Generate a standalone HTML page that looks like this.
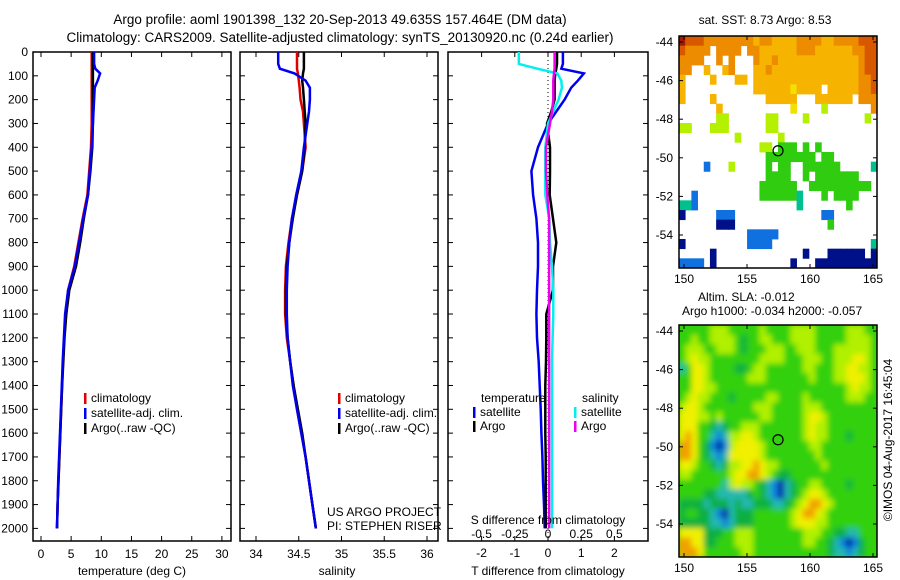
<!DOCTYPE html>
<html><head><meta charset="utf-8"><style>
body{margin:0;background:#fff;}
svg{display:block;font-family:"Liberation Sans",sans-serif;}
text{fill:#000;}
</style></head><body>
<svg id="fig" width="900" height="580" viewBox="0 0 900 580" xmlns="http://www.w3.org/2000/svg">
<g font-size="13.5">
<text x="340" y="24" text-anchor="middle">Argo profile: aoml 1901398_132 20-Sep-2013 49.635S 157.464E (DM data)</text>
<text x="340" y="42" text-anchor="middle">Climatology: CARS2009. Satellite-adjusted climatology: synTS_20130920.nc (0.24d earlier)</text>
</g>
<g id="p1"></g>
<g id="p2"></g>
<g id="p3"></g>
<g id="m1"></g>
<g id="m2"></g>
<defs><filter id="blur" x="0" y="0" width="1" height="1"><feGaussianBlur stdDeviation="3"/></filter>
<clipPath id="c2"><rect x="679" y="325" width="198" height="232"/></clipPath></defs>
</svg>
<script>
// ---- data ----
const depths=[0,50,70,90,120,150,200,250,300,400,500,600,700,800,900,1000,1100,1200,1300,1400,1500,1600,1700,1800,1900,2000];
const tempClim=[8.4,8.4,8.4,8.4,8.4,8.4,8.4,8.4,8.4,8.3,8.0,7.7,6.9,6.2,5.5,4.5,4.1,3.85,3.65,3.5,3.35,3.2,3.05,2.9,2.75,2.65];
const tempSat=[8.8,8.8,9.0,9.8,9.4,8.9,8.8,8.7,8.6,8.4,8.1,7.8,7.0,6.3,5.6,4.5,4.0,3.8,3.6,3.45,3.3,3.15,3.0,2.85,2.75,2.65];
const tempArgo=[8.6,8.6,8.6,8.6,8.6,8.6,8.6,8.6,8.6,8.5,8.2,7.8,7.1,6.5,5.8,4.7,4.2,3.9,3.7,3.5,3.35,3.2,3.05,2.9,2.75,2.65];
const salClim=[34.48,34.48,34.48,34.49,34.50,34.51,34.52,34.55,34.56,34.58,34.54,34.48,34.42,34.38,34.35,34.34,34.34,34.36,34.40,34.44,34.48,34.53,34.58,34.62,34.66,34.70];
const salSat=[34.26,34.26,34.28,34.45,34.58,34.63,34.63,34.62,34.60,34.56,34.53,34.47,34.42,34.39,34.37,34.36,34.36,34.37,34.40,34.43,34.48,34.53,34.58,34.62,34.66,34.70];
const salArgo=[34.56,34.56,34.56,34.55,34.54,34.55,34.56,34.57,34.58,34.57,34.54,34.48,34.43,34.39,34.36,34.35,34.35,34.37,34.40,34.44,34.49,34.54,34.58,34.62,34.66,34.70];
const dTSat=[0.45,0.45,0.4,1.08,0.9,0.7,0.5,0.25,0.0,-0.3,-0.5,-0.45,-0.35,-0.3,-0.3,-0.33,-0.35,-0.33,-0.28,-0.25,-0.22,-0.2,-0.17,-0.15,-0.12,-0.1];
const dTArgo=[0.27,0.27,0.25,0.22,0.2,0.2,0.2,0.1,-0.03,0.06,0.06,0.05,0.15,0.25,0.15,0.15,-0.05,-0.05,-0.06,-0.08,-0.08,-0.08,-0.07,-0.07,-0.07,-0.07];
const dSSat=[-0.22,-0.22,-0.08,0.07,0.1,0.105,0.08,0.04,0.0,-0.02,-0.02,-0.02,0.01,0.015,0.03,0.04,0.04,0.035,0.03,0.03,0.03,0.03,0.03,0.03,0.03,0.03];
const dSArgo=[0.05,0.05,0.05,0.045,0.04,0.04,0.04,0.03,0.015,-0.015,-0.015,-0.005,0.008,0.008,0.008,0.008,0.008,0.008,0.008,0.008,0.008,0.008,0.008,0.008,0.008,0.008];
const depthTicks=[0,100,200,300,400,500,600,700,800,900,1000,1100,1200,1300,1400,1500,1600,1700,1800,1900,2000];
const tempTicks=[0,5,10,15,20,25,30];
const salTicks=[34,34.5,35,35.5,36];
const dTTicks=[-2,-1,0,1,2];
const dSTicks=[-0.5,-0.25,0,0.25,0.5];
const dSLabels=["-0.5","-0.25","0","0.25","0.5"];
const lonTicks=[150,155,160,165];
const latTicks=[-44,-46,-48,-50,-52,-54];
const argoLon=157.464, argoLat=-49.635;
const sstGrid=[
"98887777777767766667777667777888",
"87777.7777.776666667776666667788",
"7777..7.7...76676666666666666788",
"77..6..67...66766666666666666788",
"6....6...66.66666666666666666778",
"6...........66666656666.66666778",
"6....6........66666...666666.777",
"......6...........5....4.......7",
"......44......44....4.........4.",
"44...444......44................",
".........4......4...............",
".............44.333.3.3.........",
"..............33333333.33.......",
"....1...4.....3.33..333333.....2",
"..............3333..3.3333333...",
".............333333..3333333333.",
"..1..........3333332...3.3333...",
"221................2.......3....",
"0.....111..............11.......",
"......000...............3.......",
"...........11111................",
"0..........1111................2",
".....0..............0...000000.0",
"1111.0............0...0000000000"];
const slaGrid=[
"44444555444445444455554444455544","44544555543445544455554444455554",
"45554455543444555445554445555554","45655444444445555444555445556654",
"24665444433455444444554445566554","44665444444555444444454445566654",
"44665544444444444444444444456554","45655444344444554444544444455544",
"56654444444455544444555444444444","66655454444445544444566544444444",
"66644323445554444444565544444444","67644212556654444444565544434444",
"77643101566665444444455444444444","77643212666665444444445444444444",
"66544323556676554444444544444444","55444444566776543344444444444444",
"44444442565543210234455444434444","44443322222343210234566544444444",
"33332333232233322345677654444444","34433210233344444456776544444444",
"33333221233344444456665544444444","66663334455544444444555443322444",
"77663344455544444444554432101344","77764444445544444444444432212344"];
const sstColors={"9":"#a81800","8":"#d85800","7":"#ee8c00","6":"#f6b400","5":"#f2e000","4":"#b4f000","3":"#30cc10","2":"#00c090","1":"#1070e0","0":"#001088"};
const slaColors={"0":"#0020a0","1":"#1080e0","2":"#20b8b0","3":"#10b040","4":"#30d010","5":"#b0f000","6":"#f0f000","7":"#f0a000"};

// ---- helpers ----
const NS="http://www.w3.org/2000/svg";
function mk(parent,tag,attrs,txt){const e=document.createElementNS(NS,tag);for(const k in attrs)e.setAttribute(k,attrs[k]);if(txt!==undefined)e.textContent=txt;parent.appendChild(e);return e;}
const Y0=52,Y1=541;
const yD=d=>52+d*0.2382;
function panel(g,x0,x1,xs,ticks,labels,labY){
  const f=mk(g,'rect',{x:x0,y:Y0,width:x1-x0,height:Y1-Y0,fill:'none',stroke:'#000','stroke-width':1.5});
  
  
  ticks.forEach((t,i)=>{const x=xs(t);
    mk(g,'line',{x1:x,x2:x,y1:Y1,y2:Y1-5,stroke:'#000'});
    mk(g,'line',{x1:x,x2:x,y1:Y0,y2:Y0+5,stroke:'#000'});
    if(labels){const tx=mk(g,'text',{x:x,y:labY,'text-anchor':'middle','font-size':12},labels[i]);
      
      }
  });
  depthTicks.forEach(d=>{const y=yD(d);
    mk(g,'line',{x1:x0,x2:x0+5,y1:y,y2:y,stroke:'#000'});
    mk(g,'line',{x1:x1,x2:x1-5,y1:y,y2:y,stroke:'#000'});});
}
function line(g,xs,vals,color,name,w){
  const p=vals.map((v,i)=>(i?'L':'M')+xs(v).toFixed(1)+','+yD(depths[i]).toFixed(1)).join('');
  const e=mk(g,'path',{d:p,fill:'none',stroke:color,'stroke-width':w||2.5});
  
  
}
function legend(g,x,y,color,label,name){
  mk(g,'rect',{x:x,y:y-9,width:2.5,height:11,fill:color});
  const t=mk(g,'text',{x:x+7,y:y,'font-size':12},label);
  
  
}
const fig=document.getElementById('fig');
const yl=mk(fig,'g',{});


depthTicks.forEach(d=>mk(yl,'text',{x:28,y:yD(d)+4,'text-anchor':'end','font-size':12},String(d)));

// panel 1
const p1=document.getElementById('p1');
const xT=v=>41+v*6.03;
panel(p1,33,231,xT,tempTicks,tempTicks.map(String),558);
line(p1,xT,tempClim,'#e00000','temp-climatology-line');
line(p1,xT,tempArgo,'#000','temp-argo-line');
line(p1,xT,tempSat,'#0000f0','temp-satellite-line');
mk(p1,'text',{x:132,y:575,'text-anchor':'middle','font-size':12},'temperature (deg C)');
legend(p1,84,402,'#e00000','climatology','legend-climatology');
legend(p1,84,417,'#0000f0','satellite-adj. clim.','legend-satellite');
legend(p1,84,432,'#000','Argo(..raw -QC)','legend-argo');

// panel 2
const p2=document.getElementById('p2');
const xS=v=>256+(v-34)*85.5;
panel(p2,240,438,xS,salTicks,salTicks.map(String),558);
line(p2,xS,salClim,'#e00000','sal-climatology-line');
line(p2,xS,salArgo,'#000','sal-argo-line');
line(p2,xS,salSat,'#0000f0','sal-satellite-line');
mk(p2,'text',{x:337,y:575,'text-anchor':'middle','font-size':12},'salinity');
legend(p2,338,402,'#e00000','climatology','legend-climatology-2');
legend(p2,338,417,'#0000f0','satellite-adj. clim.','legend-satellite-2');
legend(p2,338,432,'#000','Argo(..raw -QC)','legend-argo-2');
mk(p2,'text',{x:327,y:516,'font-size':12},'US ARGO PROJECT');
mk(p2,'text',{x:327,y:530,'font-size':12},'PI: STEPHEN RISER');

// panel 3
const p3=document.getElementById('p3');
const xD=v=>548+v*33.2;
const xDS=v=>xD(v*4);
panel(p3,448,648,xD,dTTicks,dTTicks.map(String),557);
dSTicks.forEach((t,i)=>mk(p3,'text',{x:xDS(t),y:538,'text-anchor':'middle','font-size':12},dSLabels[i]));
mk(p3,'line',{x1:xD(0),x2:xD(0),y1:Y0,y2:Y1,stroke:'#000','stroke-dasharray':'1,3'});
line(p3,xD,dTSat,'#0000f0','dT-satellite-line');
line(p3,xD,dTArgo,'#000','dT-argo-line');
line(p3,xDS,dSSat,'#00f0f0','dS-satellite-line');
line(p3,xDS,dSArgo,'#f000f0','dS-argo-line');
mk(p3,'text',{x:548,y:524,'text-anchor':'middle','font-size':12},'S difference from climatology');
mk(p3,'text',{x:548,y:575,'text-anchor':'middle','font-size':12},'T difference from climatology');
mk(p3,'text',{x:481,y:402,'font-size':12},'temperature');
mk(p3,'text',{x:582,y:402,'font-size':12},'salinity');
legend(p3,473,416,'#0000f0','satellite','legend-t-satellite');
legend(p3,473,430,'#000','Argo','legend-t-argo');
legend(p3,574,416,'#00f0f0','satellite','legend-s-satellite');
legend(p3,574,430,'#f000f0','Argo','legend-s-argo');

// maps
function map(g,top,grid,colors,blur,nameCell){
  const X0=679,X1=877,H=232;
  const lonX=l=>684+(l-150)*12.6;
  const latY=a=>top+6+(-44-a)*19.3;
  const cg=mk(g,'g',blur?{filter:'url(#blur)','clip-path':'url(#c2)'}:{});
  const cw=198/32,ch=H/24;
  if(blur) mk(cg,'rect',{x:X0-10,y:top-10,width:220,height:H+20,fill:colors["4"]});
  grid.forEach((row,r)=>{for(let c=0;c<32;c++){const ch_=row[c];if(!ch_||ch_==='.')continue;
    const e=mk(cg,'rect',{x:(X0+c*cw).toFixed(2),y:(top+r*ch).toFixed(2),width:(cw+0.4).toFixed(2),height:(ch+0.4).toFixed(2),fill:colors[ch_]});
    
    }});
  const f=mk(g,'rect',{x:X0,y:top,width:X1-X0,height:H,fill:'none',stroke:'#000','stroke-width':1.5});
  
  
  lonTicks.forEach(l=>{const x=lonX(l);
    mk(g,'line',{x1:x,x2:x,y1:top,y2:top+4,stroke:'#000'});
    mk(g,'line',{x1:x,x2:x,y1:top+H,y2:top+H-4,stroke:'#000'});
    mk(g,'text',{x:x,y:top+H+15,'text-anchor':'middle','font-size':12},String(l));});
  latTicks.forEach(a=>{const y=latY(a);
    mk(g,'line',{x1:X0,x2:X0+4,y1:y,y2:y,stroke:'#000'});
    mk(g,'line',{x1:X1,x2:X1-4,y1:y,y2:y,stroke:'#000'});
    mk(g,'text',{x:673,y:y+4,'text-anchor':'end','font-size':12},String(a));});
  const m=mk(g,'circle',{cx:lonX(argoLon),cy:latY(argoLat),r:5,fill:'none',stroke:'#000','stroke-width':1.2});
  
  
}
const m1=document.getElementById('m1');
mk(m1,'text',{x:765,y:24,'text-anchor':'middle','font-size':12},'sat. SST: 8.73 Argo: 8.53');
map(m1,36,sstGrid,sstColors,false,'sst-cell');
const m2=document.getElementById('m2');
mk(m2,'text',{x:698,y:301,'font-size':12},'Altim. SLA: -0.012');
mk(m2,'text',{x:682,y:315,'font-size':12},'Argo h1000: -0.034 h2000: -0.057');
map(m2,325,slaGrid,slaColors,true,'sla-cell');
mk(m2,'text',{x:0,y:0,'font-size':12,transform:'translate(892,440) rotate(-90)','text-anchor':'middle'},'©IMOS 04-Aug-2017 16:45:04');
</script>
</body></html>
